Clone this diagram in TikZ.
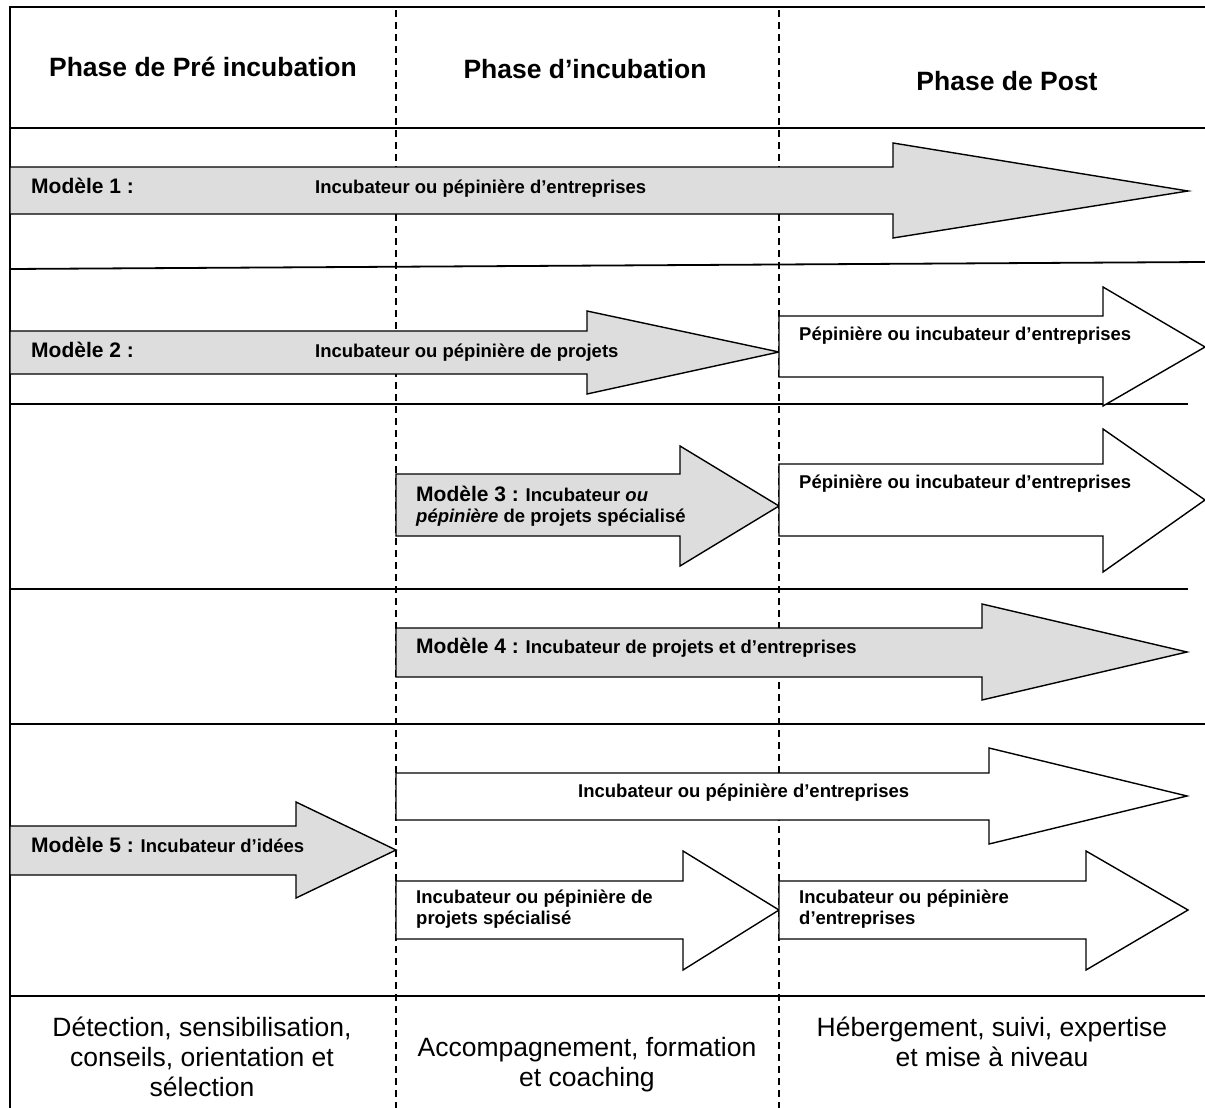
\documentclass[tikz,border=0pt]{standalone}
\usepackage{fontspec}
\setmainfont{Liberation Sans}
\usepackage{tikz}
\usetikzlibrary{positioning}
\definecolor{arrowgray}{RGB}{221,221,221}

\begin{document}
\begin{tikzpicture}[
x=1pt, y=-1pt,
rule/.style={line width=1.8pt},
phaseline/.style={line width=1.1pt, dash pattern=on 7pt off 5pt},
grayarrow/.style={draw, line width=1.4pt, fill=arrowgray, line join=miter},
whitearrow/.style={draw, line width=1.4pt, fill=white, line join=miter},
phasetitle/.style={font=\bfseries\fontsize{26.5}{30}\selectfont, anchor=base},
modlabel/.style={font=\bfseries\fontsize{21}{24}\selectfont, anchor=base west, inner sep=0pt},
arrowtext/.style={font=\bfseries\fontsize{18.5}{21}\selectfont, anchor=base west, inner sep=0pt, align=left},
tasktext/.style={font=\fontsize{26.5}{30}\selectfont, anchor=base, inner sep=0pt, align=center}
]
    \useasboundingbox (0,0) rectangle (1205,1108);

    % frame and rows
    \draw[rule] (1205,7) -- (10,7) -- (10,1108);
    \draw[rule] (10,128) -- (1205,128);
    \draw[rule] (10,269) -- (1205,262);
    \draw[rule] (10,404) -- (1188,404);
    \draw[rule] (10,589) -- (1188,589);
    \draw[rule] (10,724) -- (1205,724);
    \draw[rule] (10,996) -- (1205,996);

    % phase limits
    \draw[phaseline] (396,10) -- (396,1108);
    \draw[phaseline] (779,10) -- (779,1108);

    % headers
    \node[phasetitle] (prehead) at (203,77) {Phase de Pré incubation};
    \node[phasetitle] (inchead) at (585,78) {Phase d’incubation};
    \node[phasetitle] (posthead) at (1007,90) {Phase de Post};

    % modele 1
    \draw[grayarrow] (10,167) -- (893,167) -- (893,143) -- (1188,191)
        -- (893,238) -- (893,214) -- (10,214) -- cycle;
    \node[modlabel] (mod1) at (31,193) {Modèle 1 :};
    \node[arrowtext] (mod1txt) at (315,193) {Incubateur ou pépinière d’entreprises};

    % modele 2
    \draw[grayarrow] (10,331) -- (587,331) -- (587,311) -- (779,352)
        -- (587,394) -- (587,374) -- (10,374) -- cycle;
    \draw[whitearrow] (779,316) -- (1103,316) -- (1103,287) -- (1205,347)
        -- (1103,406) -- (1103,377) -- (779,377) -- cycle;
    \node[modlabel] (mod2) at (31,357) {Modèle 2 :};
    \node[arrowtext] (mod2txt) at (315,357) {Incubateur ou pépinière de projets};
    \node[arrowtext] (mod2next) at (799,340) {Pépinière ou incubateur d’entreprises};

    % modele 3 (base = last line)
    \draw[grayarrow] (396,474) -- (680,474) -- (680,446) -- (779,506)
        -- (680,566) -- (680,536) -- (396,536) -- cycle;
    \draw[whitearrow] (779,464) -- (1103,464) -- (1103,429) -- (1205,500)
        -- (1103,572) -- (1103,536) -- (779,536) -- cycle;
    \node[arrowtext] (mod3) at (416,522) {{\fontsize{21}{24}\selectfont Modèle 3 :} Incubateur \textit{ou}\\\textit{pépinière} de projets spécialisé};
    \node[arrowtext] (mod3next) at (799,488) {Pépinière ou incubateur d’entreprises};

    % modele 4
    \draw[grayarrow] (396,628) -- (982,628) -- (982,604) -- (1187,652)
        -- (982,700) -- (982,677) -- (396,677) -- cycle;
    \node[arrowtext] (mod4) at (416,653) {{\fontsize{21}{24}\selectfont Modèle 4 :} Incubateur de projets et d’entreprises};

    % modele 5
    \draw[whitearrow] (396,773) -- (989,773) -- (989,748) -- (1187,796)
        -- (989,844) -- (989,820) -- (396,820) -- cycle;
    \draw[grayarrow] (10,826) -- (296,826) -- (296,802) -- (396,850)
        -- (296,898) -- (296,875) -- (10,875) -- cycle;
    \draw[whitearrow] (396,881) -- (683,881) -- (683,851) -- (779,910)
        -- (683,970) -- (683,939) -- (396,939) -- cycle;
    \draw[whitearrow] (779,881) -- (1086,881) -- (1086,851) -- (1188,910)
        -- (1086,970) -- (1086,939) -- (779,939) -- cycle;
    \node[arrowtext] (mod5top) at (578,797) {Incubateur ou pépinière d’entreprises};
    \node[arrowtext] (mod5) at (31,852) {{\fontsize{21}{24}\selectfont Modèle 5 :} Incubateur d’idées};
    \node[arrowtext] (mod5spec) at (416,924) {Incubateur ou pépinière de\\projets spécialisé};
    \node[arrowtext] (mod5ent) at (799,924) {Incubateur ou pépinière\\d’entreprises};

    % bottom row
    \node[tasktext] (taskpre) at (202,1096) {Détection, sensibilisation,\\conseils, orientation et\\sélection};
    \node[tasktext] (taskinc) at (587,1086) {Accompagnement, formation\\et coaching};
    \node[tasktext] (taskpost) at (992,1066) {Hébergement, suivi, expertise\\et mise à niveau};

\end{tikzpicture}
\end{document}
